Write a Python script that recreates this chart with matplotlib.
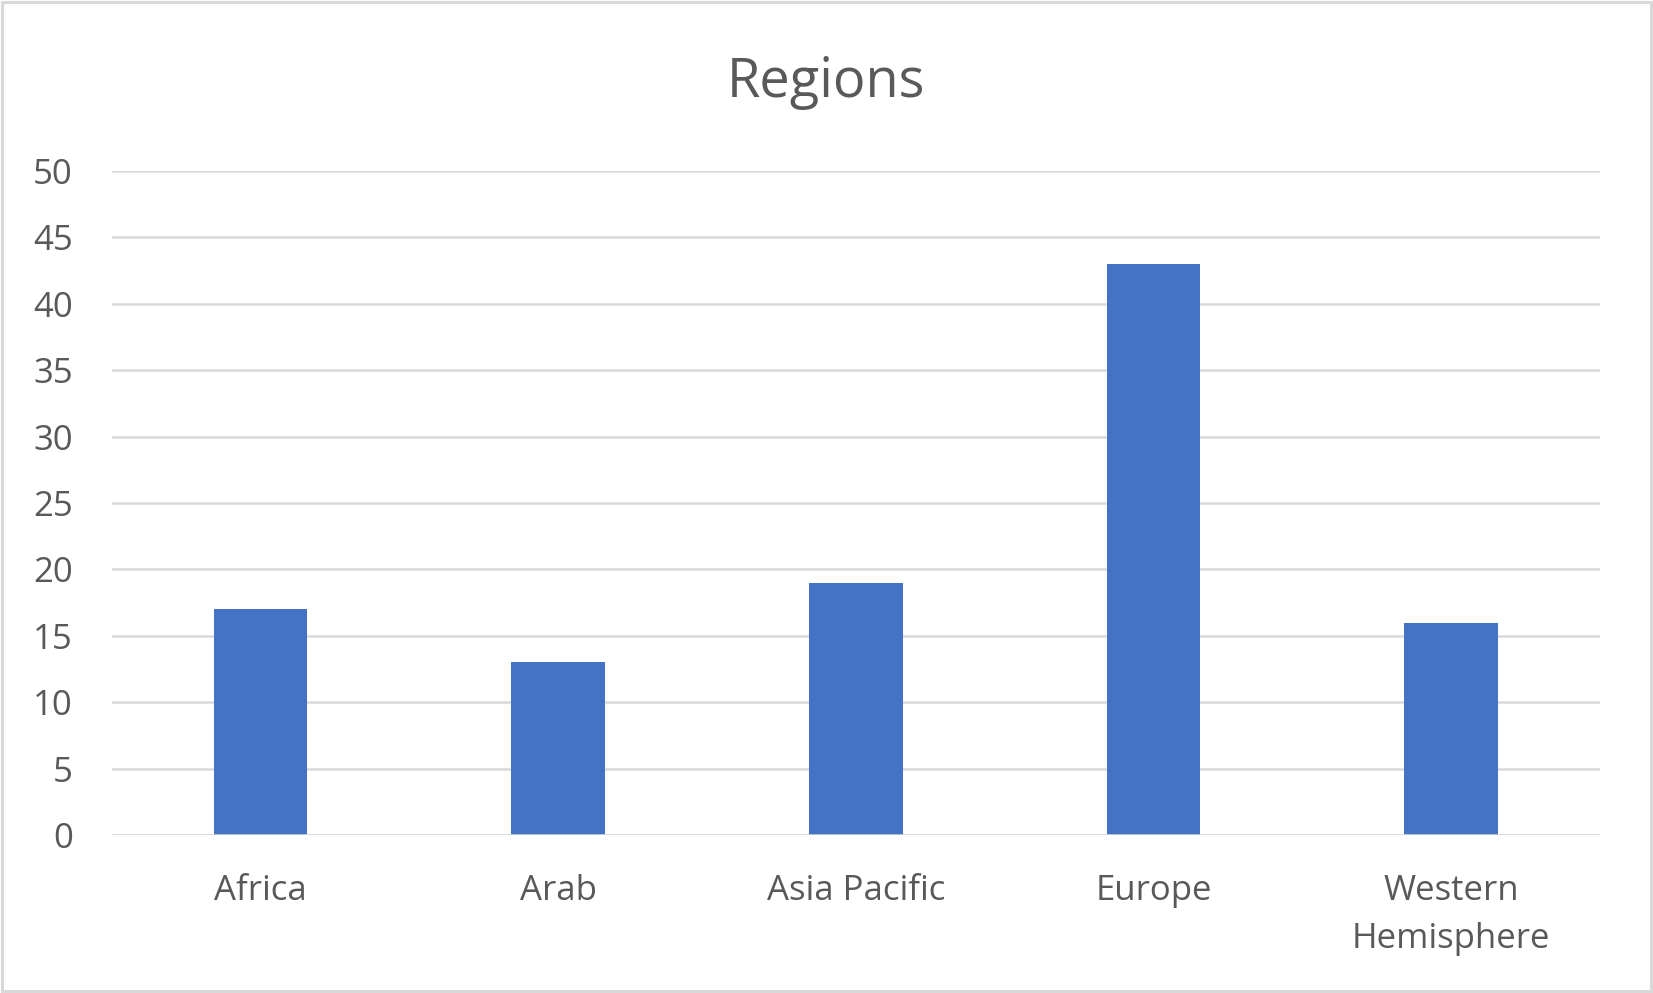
import matplotlib
matplotlib.use("Agg")
import matplotlib.pyplot as plt
from matplotlib.patches import Rectangle

categories = ["Africa", "Arab", "Asia Pacific", "Europe", "Western\nHemisphere"]
values = [17, 13, 19, 43, 16]
yticks = [0, 5, 10, 15, 20, 25, 30, 35, 40, 45, 50]
title = "Regions"

plt.rcParams['font.family'] = ['Open Sans', 'DejaVu Sans']
txt = "#595959"
grid = "#d9d9d9"

fig = plt.figure(figsize=(16.53, 9.93), dpi=100)
fig.patches.append(Rectangle((0.0015, 0.002), 0.997, 0.996, transform=fig.transFigure,
                             fill=False, edgecolor=grid, linewidth=2.2))
ax = fig.add_axes([0.0675, 0.159, 0.9005, 0.669])
x = list(range(len(categories)))
ax.bar(x, values, width=0.315, color="#4472C4", zorder=3)
ax.set_xlim(-0.5, len(categories) - 0.5)
ax.set_ylim(0, 50)
ax.set_yticks(yticks)
ax.set_xticks(x)
ax.set_xticklabels(categories, linespacing=1.55)
for s in ax.spines.values():
    s.set_visible(False)
ax.yaxis.grid(True, color=grid, linewidth=1.8, zorder=0)
ax.set_axisbelow(True)
ax.axhline(0, color=grid, linewidth=1.8, zorder=4)
ax.tick_params(axis='both', length=0, labelcolor=txt, labelsize=25)
ax.tick_params(axis='y', pad=28)
ax.tick_params(axis='x', pad=28)
fig.text(0.4994, 0.917, title, ha='center', va='center', fontsize=39, color=txt)
fig.savefig("out.png", dpi=100)
